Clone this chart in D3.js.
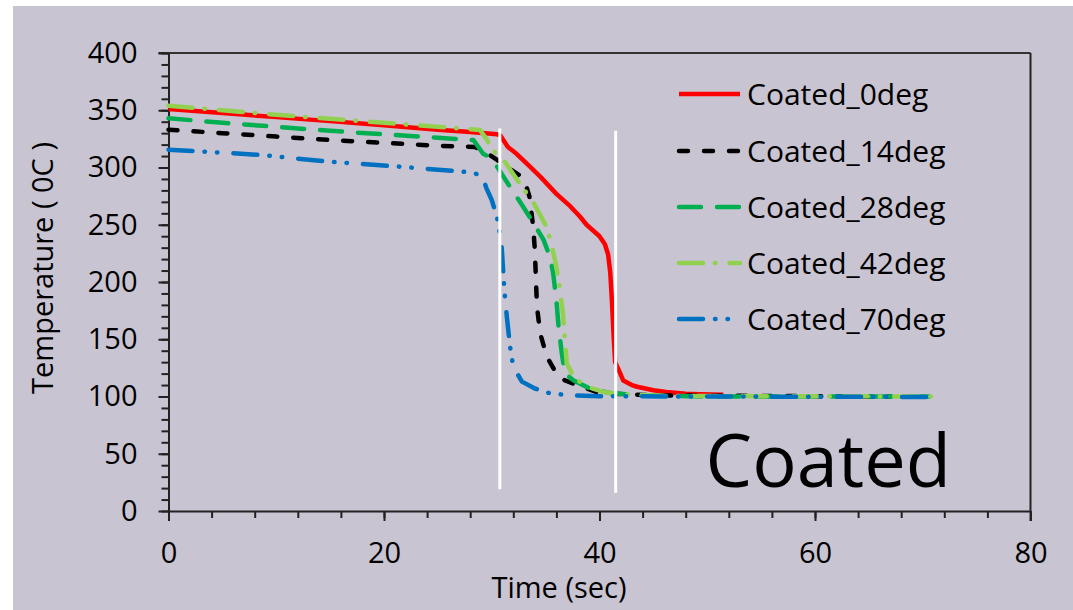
<!DOCTYPE html>
<html>
<head>
<meta charset="utf-8">
<script src="https://cdn.jsdelivr.net/npm/d3@7/dist/d3.min.js"></script>
<style>
html,body{margin:0;padding:0;background:#ffffff;}
svg{display:block;}
text{font-family:"Open Sans",sans-serif;fill:#000;}
</style>
</head>
<body>
<svg id="chart" width="1073" height="610"></svg>
<script>
// ---- data ----
const xTicks = [0, 20, 40, 60, 80];
const yTicks = [0, 50, 100, 150, 200, 250, 300, 350, 400];
const seriesNames = ["Coated_0deg", "Coated_14deg", "Coated_28deg", "Coated_42deg", "Coated_70deg"];
const seriesColors = ["#ff0000", "#000000", "#00b050", "#92d050", "#0070c0"];

const coated0 = [[0,351],[5,347.5],[10,344],[15,340.5],[20,337],[25,333],[28,331],[30.5,329],[30.8,328],[31.5,318],[32.3,312],[33.4,302],[34.5,292],[36.0,277],[37.3,266],[38.2,257],[38.8,250],[40.0,240],[40.5,233],[40.8,224],[41.0,208],[41.15,184],[41.3,155],[41.45,130],[41.7,125],[42.2,114],[43.0,110],[43.5,108.5],[45,105.5],[46.2,104],[48,102.5],[49.3,102],[51.5,101.5]];
const coated14 = [[0,333],[5,330],[10,327],[15,324],[20,321.5],[25,319],[28.4,318],[29.2,315],[29.8,311],[30.5,306.6],[31.5,300],[32.6,293],[33.2,284],[33.5,274.5],[33.85,248],[34.0,228],[34.1,202],[34.2,178],[34.5,155],[35.1,135],[36.0,120],[36.8,114],[37.9,110],[39.7,104],[41.2,102.5],[45,101],[55,100.5],[67,100]];
const coated28 = [[0,343],[5,339],[10,335.5],[15,332],[20,329],[25,326],[28.3,324],[29.2,312],[29.8,309],[30.5,300.7],[31.7,283],[32.9,266],[33.9,251],[34.8,237],[35.4,222],[35.7,207.6],[36.0,184],[36.2,161],[36.5,137.7],[36.8,120],[37.6,114],[39.1,107],[41.0,103],[44,101],[50,100],[71,100]];
const coated42 = [[0,354],[5,350],[10,346],[15,342.5],[20,339],[25,335.5],[28.9,332.8],[29.5,325],[30.1,315],[31.1,306.5],[32.6,286],[33.9,268.7],[35.1,248],[35.6,231],[36.0,213],[36.3,196],[36.6,172.7],[36.8,149],[36.96,129],[37.6,117],[38.8,108.6],[40.35,104],[42,102],[46,100.5],[71,100]];
const coated70 = [[0,315.5],[3,314],[8.5,311],[15,305],[21.5,300.7],[27.7,296],[29.1,293.4],[29.5,282],[30.0,271.6],[30.5,256],[30.9,234],[31.07,207.6],[31.2,190],[31.4,169.7],[31.7,143.5],[32.0,126],[32.8,113],[34.0,107],[35.4,102.8],[37.3,101],[40,100.2],[71,99.6]];
const seriesData = [coated0, coated14, coated28, coated42, coated70];

// white vertical marker lines: [time, topTemp, bottomTemp]
const markers = [[30.75, 334, 19], [41.5, 332, 16]];

// ---- layout ----
const svg = d3.select("#chart");
const pLeft = 168.5, pRight = 1030.5, pTop = 53, pBottom = 511;
const x = d3.scaleLinear().domain([0, 80]).range([pLeft, pRight]);
const y = d3.scaleLinear().domain([0, 400]).range([pBottom, pTop]);

svg.append("rect").attr("x", 13).attr("y", 6).attr("width", 1073 - 13).attr("height", 610 - 6).attr("fill", "#c9c4d2");

const dashes = [null, "9,16", "22,16", "24,12,0.5,14", "24,12,0.5,12,0.5,16"];
const widths = [4.5, 4.5, 4.5, 4.5, 4.5];

// frame (top & right)
svg.append("line").attr("x1", x(0) - 10).attr("x2", pRight).attr("y1", pTop).attr("y2", pTop).attr("stroke", "#333").attr("stroke-width", 2);
svg.append("line").attr("x1", pRight).attr("x2", pRight).attr("y1", pTop).attr("y2", pBottom + 10).attr("stroke", "#222").attr("stroke-width", 2);

// minor ticks
const yMinor = d3.range(0, 401, 10);
const xMinor = d3.range(0, 81, 4);
svg.append("g").attr("transform", `translate(${pLeft},0)`)
  .call(d3.axisLeft(y).tickValues(yMinor).tickSize(7).tickFormat(""))
  .call(g => g.select(".domain").remove())
  .selectAll("line").attr("stroke", "#222").attr("stroke-width", 2);
svg.append("g").attr("transform", `translate(0,${pBottom})`)
  .call(d3.axisBottom(x).tickValues(xMinor).tickSize(7).tickFormat(""))
  .call(g => g.select(".domain").remove())
  .selectAll("line").attr("stroke", "#222").attr("stroke-width", 2);

// major axes
const gy = svg.append("g").attr("transform", `translate(${pLeft},0)`)
  .call(d3.axisLeft(y).tickValues(yTicks).tickSize(10).tickSizeOuter(0).tickPadding(21));
const gx = svg.append("g").attr("transform", `translate(0,${pBottom})`)
  .call(d3.axisBottom(x).tickValues(xTicks).tickSize(10).tickSizeOuter(0).tickPadding(21));
[gy, gx].forEach(g => {
  g.select(".domain").attr("stroke", "#222").attr("stroke-width", 2);
  g.selectAll("line").attr("stroke", "#222").attr("stroke-width", 2);
  g.selectAll("text").attr("font-family", "'Open Sans', sans-serif").attr("font-size", 29).attr("fill", "#000");
});
gx.selectAll("text").attr("dy", "0.71em");

// series
const line = d3.line().x(d => x(d[0])).y(d => y(d[1]));
seriesData.forEach((data, i) => {
  svg.append("path").datum(data)
    .attr("d", line)
    .attr("fill", "none")
    .attr("stroke", seriesColors[i])
    .attr("stroke-width", widths[i])
    .attr("stroke-linecap", i === 0 ? "butt" : "round")
    .attr("stroke-linejoin", "round")
    .attr("stroke-dasharray", dashes[i]);
});

// white markers
markers.forEach(m => {
  svg.append("line").attr("x1", x(m[0])).attr("x2", x(m[0]))
    .attr("y1", y(m[1])).attr("y2", y(m[2]))
    .attr("stroke", "#ffffff").attr("stroke-width", 3);
});

// legend
const legY = [94, 151, 207, 263, 319];
seriesNames.forEach((name, i) => {
  svg.append("line").attr("x1", 679).attr("x2", 740).attr("y1", legY[i]).attr("y2", legY[i])
    .attr("stroke", seriesColors[i]).attr("stroke-width", widths[i])
    .attr("stroke-linecap", i === 0 ? "butt" : "round")
    .attr("stroke-dasharray", dashes[i]);
  svg.append("text").attr("x", 747).attr("y", legY[i]).attr("dy", "0.35em")
    .attr("font-size", 30).text(name);
});

// big label
svg.append("text").attr("x", 951).attr("y", 487).attr("text-anchor", "end")
  .attr("font-size", 74).text("Coated");

// axis titles
svg.append("text").attr("x", 559).attr("y", 598).attr("text-anchor", "middle")
  .attr("font-size", 29).text("Time (sec)");
svg.append("text").attr("transform", "translate(53,268) rotate(-90)").attr("text-anchor", "middle")
  .attr("font-size", 29).text("Temperature ( 0C )");
</script>
</body>
</html>
